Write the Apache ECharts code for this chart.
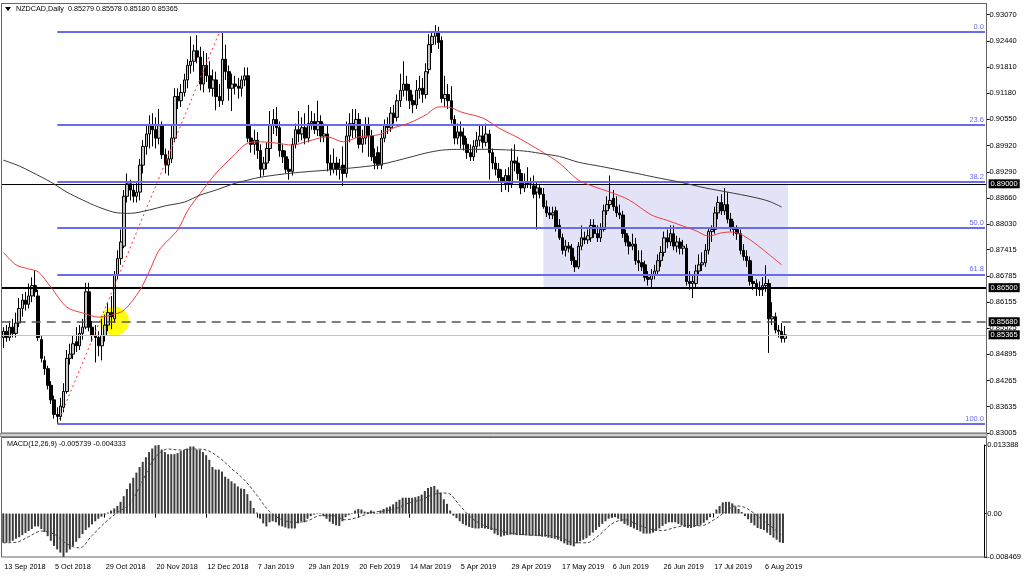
<!DOCTYPE html>
<html><head><meta charset="utf-8">
<script src="https://cdn.jsdelivr.net/npm/echarts@6/dist/echarts.min.js"></script>
<style>html,body{margin:0;padding:0;background:#fff}#c{width:1024px;height:581px}</style>
</head><body><div id="c"></div>
<script>
// ---------------- DATA ----------------
const symbolName = 'NZDCAD,Daily';
const tickLabels = ['13 Sep 2018','5 Oct 2018','29 Oct 2018','20 Nov 2018','12 Dec 2018','7 Jan 2019','29 Jan 2019','20 Feb 2019','14 Mar 2019','5 Apr 2019','29 Apr 2019','17 May 2019','6 Jun 2019','26 Jun 2019','17 Jul 2019','6 Aug 2019'];
const barsPerTick = 16;
const slotCount = 310;
const priceTicks = [0.93070,0.92440,0.91810,0.91180,0.90550,0.89920,0.89290,0.88660,0.88030,0.87415,0.86785,0.86155,0.85525,0.84895,0.84265,0.83635,0.83005];
const macdTicks = [-0.008469, 0, 0.013388];
// [open, high, low, close]
const ohlc = [
[0.8530,0.8555,0.8505,0.8545],[0.8545,0.8560,0.8520,0.8530],[0.8530,0.8570,0.8522,0.8555],[0.8555,0.8575,0.8530,0.8540],[0.8540,0.8590,0.8530,0.8565],
[0.8565,0.8625,0.8555,0.8600],[0.8600,0.8635,0.8580,0.8620],[0.8620,0.8640,0.8595,0.8610],[0.8610,0.8660,0.8600,0.8630],[0.8630,0.8675,0.8615,0.8655],
[0.8655,0.8692,0.8628,0.8640],[0.8630,0.8645,0.8522,0.8530],[0.8525,0.8535,0.8470,0.8480],[0.8475,0.8485,0.8440,0.8455],[0.8455,0.8462,0.8405,0.8415],
[0.8415,0.8425,0.8370,0.8380],[0.8380,0.8390,0.8335,0.8345],[0.8345,0.8362,0.8322,0.8340],[0.8340,0.8385,0.8330,0.8365],[0.8362,0.8420,0.8350,0.8400],
[0.8400,0.8500,0.8395,0.8480],[0.8480,0.8515,0.8465,0.8490],[0.8490,0.8535,0.8478,0.8515],[0.8520,0.8555,0.8495,0.8510],[0.8510,0.8560,0.8500,0.8540],
[0.8540,0.8575,0.8525,0.8555],[0.8555,0.8662,0.8550,0.8640],[0.8640,0.8662,0.8545,0.8555],[0.8555,0.8570,0.8520,0.8535],[0.8535,0.8560,0.8470,0.8530],
[0.8530,0.8545,0.8485,0.8510],[0.8510,0.8575,0.8475,0.8535],[0.8535,0.8585,0.8520,0.8560],[0.8560,0.8615,0.8545,0.8590],[0.8590,0.8630,0.8550,0.8580],
[0.8575,0.8690,0.8565,0.8680],[0.8680,0.8740,0.8670,0.8720],[0.8720,0.8790,0.8705,0.8760],[0.8750,0.8885,0.8745,0.8870],[0.8870,0.8925,0.8855,0.8900],
[0.8900,0.8910,0.8860,0.8885],[0.8885,0.8900,0.8855,0.8870],[0.8870,0.8905,0.8855,0.8880],[0.8880,0.8960,0.8860,0.8945],[0.8945,0.9005,0.8925,0.8990],
[0.8990,0.9040,0.8970,0.9020],[0.9020,0.9065,0.8985,0.9040],[0.9040,0.9070,0.8990,0.9030],[0.9030,0.9060,0.8985,0.9010],[0.9010,0.9080,0.8995,0.9040],
[0.9040,0.9050,0.8960,0.8970],[0.8970,0.8985,0.8925,0.8945],[0.8945,0.8980,0.8920,0.8960],[0.8960,0.9040,0.8950,0.9010],[0.9010,0.9130,0.9000,0.9110],
[0.9110,0.9130,0.9080,0.9100],[0.9100,0.9140,0.9085,0.9120],[0.9120,0.9165,0.9110,0.9150],[0.9150,0.9200,0.9130,0.9185],[0.9185,0.9255,0.9165,0.9195],
[0.9195,0.9235,0.9170,0.9220],[0.9220,0.9258,0.9190,0.9205],[0.9205,0.9230,0.9125,0.9140],[0.9140,0.9220,0.9120,0.9185],[0.9185,0.9215,0.9145,0.9160],
[0.9160,0.9195,0.9120,0.9130],[0.9130,0.9175,0.9110,0.9150],[0.9150,0.9170,0.9077,0.9110],[0.9110,0.9140,0.9085,0.9100],[0.9100,0.9265,0.9090,0.9200],
[0.9200,0.9235,0.9150,0.9170],[0.9170,0.9185,0.9100,0.9130],[0.9130,0.9165,0.9075,0.9140],[0.9140,0.9160,0.9115,0.9135],[0.9135,0.9155,0.9105,0.9130],
[0.9130,0.9160,0.9110,0.9150],[0.9150,0.9180,0.9135,0.9160],[0.9160,0.9180,0.9000,0.9010],[0.9010,0.9040,0.8975,0.8995],[0.8995,0.9030,0.8970,0.9005],
[0.9005,0.9025,0.8960,0.8980],[0.8980,0.8995,0.8915,0.8935],[0.8935,0.8965,0.8920,0.8950],[0.8950,0.9000,0.8935,0.8985],[0.8985,0.9075,0.8955,0.9040],
[0.9040,0.9080,0.9020,0.9055],[0.9055,0.9085,0.9015,0.9035],[0.9035,0.9050,0.8965,0.8980],[0.8980,0.8995,0.8950,0.8965],[0.8965,0.8980,0.8925,0.8935],
[0.8935,0.8960,0.8910,0.8930],[0.8930,0.9010,0.8920,0.8995],[0.8995,0.9045,0.8985,0.9030],[0.9030,0.9075,0.9000,0.9020],[0.9020,0.9060,0.9005,0.9035],
[0.9035,0.9070,0.8995,0.9010],[0.9010,0.9090,0.9000,0.9045],[0.9045,0.9075,0.9030,0.9050],[0.9050,0.9070,0.9020,0.9030],[0.9030,0.9100,0.9015,0.9050],
[0.9050,0.9065,0.9000,0.9015],[0.9015,0.9045,0.9000,0.9020],[0.9020,0.9040,0.8930,0.8950],[0.8950,0.8970,0.8920,0.8935],[0.8935,0.8985,0.8925,0.8950],
[0.8950,0.8965,0.8920,0.8935],[0.8935,0.8960,0.8910,0.8940],[0.8945,0.8990,0.8895,0.8925],[0.8925,0.9050,0.8915,0.9015],[0.9015,0.9070,0.9000,0.9045],
[0.9045,0.9080,0.9010,0.9030],[0.9030,0.9080,0.9010,0.9055],[0.9055,0.9070,0.8985,0.8995],[0.8995,0.9030,0.8975,0.9010],[0.9010,0.9060,0.8995,0.9040],
[0.9040,0.9060,0.8965,0.9015],[0.9015,0.9030,0.8955,0.8965],[0.8965,0.8985,0.8935,0.8950],[0.8975,0.8990,0.8935,0.8945],[0.8945,0.9030,0.8935,0.9010],
[0.9010,0.9055,0.9000,0.9040],[0.9040,0.9060,0.9020,0.9035],[0.9035,0.9085,0.9025,0.9070],[0.9070,0.9090,0.9045,0.9060],[0.9060,0.9115,0.9050,0.9100],
[0.9100,0.9165,0.9085,0.9125],[0.9125,0.9195,0.9110,0.9140],[0.9140,0.9160,0.9100,0.9125],[0.9125,0.9140,0.9080,0.9100],[0.9100,0.9115,0.9070,0.9090],
[0.9090,0.9150,0.9080,0.9125],[0.9125,0.9160,0.9105,0.9130],[0.9130,0.9155,0.9095,0.9115],[0.9115,0.9190,0.9105,0.9170],[0.9175,0.9260,0.9165,0.9235],
[0.9235,0.9268,0.9215,0.9255],[0.9255,0.9282,0.9235,0.9265],[0.9265,0.9278,0.9225,0.9240],[0.9245,0.9255,0.9095,0.9105],[0.9105,0.9160,0.9085,0.9115],
[0.9115,0.9140,0.9080,0.9100],[0.9100,0.9135,0.9045,0.9055],[0.9055,0.9065,0.8995,0.9010],[0.9010,0.9045,0.8995,0.9025],[0.9025,0.9050,0.8985,0.9015],
[0.9015,0.9035,0.8980,0.8995],[0.8995,0.9010,0.8960,0.8975],[0.8975,0.8995,0.8955,0.8965],[0.8965,0.9005,0.8955,0.8990],[0.8990,0.9025,0.8975,0.9005],
[0.9005,0.9040,0.8990,0.9015],[0.9015,0.9040,0.8985,0.9000],[0.9000,0.9045,0.8990,0.9020],[0.9020,0.9030,0.8910,0.8975],[0.8975,0.8985,0.8935,0.8950],
[0.8950,0.8965,0.8920,0.8935],[0.8935,0.8950,0.8905,0.8915],[0.8915,0.8935,0.8880,0.8905],[0.8900,0.8935,0.8885,0.8920],[0.8920,0.8940,0.8880,0.8900],
[0.8900,0.8985,0.8890,0.8955],[0.8955,0.8995,0.8930,0.8950],[0.8950,0.8965,0.8910,0.8925],[0.8925,0.8935,0.8875,0.8890],[0.8890,0.8925,0.8880,0.8905],
[0.8905,0.8940,0.8890,0.8900],[0.8900,0.8915,0.8888,0.8898],[0.8895,0.8920,0.8865,0.8875],[0.8880,0.8905,0.8790,0.8890],[0.8890,0.8900,0.8865,0.8875],
[0.8875,0.8890,0.8840,0.8845],[0.8845,0.8860,0.8820,0.8830],[0.8830,0.8845,0.8815,0.8825],[0.8825,0.8845,0.8815,0.8830],[0.8835,0.8845,0.8785,0.8795],
[0.8800,0.8815,0.8765,0.8770],[0.8770,0.8780,0.8730,0.8740],[0.8740,0.8765,0.8725,0.8750],[0.8750,0.8760,0.8735,0.8745],[0.8745,0.8755,0.8705,0.8715],
[0.8715,0.8725,0.8688,0.8700],[0.8700,0.8760,0.8695,0.8750],[0.8750,0.8800,0.8740,0.8770],[0.8770,0.8785,0.8755,0.8765],[0.8765,0.8790,0.8755,0.8775],
[0.8770,0.8815,0.8760,0.8800],[0.8800,0.8815,0.8770,0.8780],[0.8780,0.8800,0.8760,0.8770],[0.8770,0.8805,0.8760,0.8790],[0.8790,0.8850,0.8785,0.8835],
[0.8835,0.8870,0.8825,0.8850],[0.8850,0.8920,0.8840,0.8860],[0.8865,0.8885,0.8835,0.8845],[0.8845,0.8870,0.8820,0.8830],[0.8830,0.8850,0.8815,0.8825],
[0.8825,0.8835,0.8770,0.8780],[0.8780,0.8790,0.8750,0.8760],[0.8760,0.8775,0.8730,0.8750],[0.8750,0.8780,0.8740,0.8755],[0.8755,0.8770,0.8705,0.8715],
[0.8715,0.8740,0.8690,0.8710],[0.8710,0.8740,0.8690,0.8700],[0.8705,0.8715,0.8665,0.8675],[0.8675,0.8690,0.8655,0.8670],[0.8670,0.8695,0.8648,0.8680],
[0.8680,0.8705,0.8670,0.8690],[0.8690,0.8730,0.8680,0.8715],[0.8715,0.8750,0.8700,0.8735],[0.8735,0.8785,0.8725,0.8770],[0.8770,0.8790,0.8745,0.8760],
[0.8760,0.8800,0.8750,0.8780],[0.8780,0.8800,0.8740,0.8750],[0.8750,0.8775,0.8735,0.8760],[0.8760,0.8770,0.8730,0.8745],[0.8745,0.8765,0.8730,0.8750],
[0.8745,0.8755,0.8655,0.8665],[0.8665,0.8690,0.8645,0.8660],[0.8660,0.8680,0.8625,0.8665],[0.8660,0.8705,0.8650,0.8690],[0.8690,0.8730,0.8680,0.8705],
[0.8705,0.8735,0.8690,0.8710],[0.8710,0.8755,0.8700,0.8740],[0.8740,0.8795,0.8730,0.8785],[0.8785,0.8800,0.8760,0.8790],[0.8790,0.8845,0.8780,0.8830],
[0.8830,0.8870,0.8815,0.8855],[0.8855,0.8875,0.8825,0.8835],[0.8835,0.8890,0.8825,0.8850],[0.8850,0.8880,0.8805,0.8815],[0.8815,0.8830,0.8785,0.8795],
[0.8795,0.8810,0.8775,0.8790],[0.8790,0.8800,0.8765,0.8780],[0.8780,0.8790,0.8730,0.8740],[0.8740,0.8755,0.8715,0.8725],[0.8725,0.8740,0.8700,0.8715],
[0.8715,0.8725,0.8655,0.8665],[0.8665,0.8680,0.8645,0.8660],[0.8660,0.8670,0.8630,0.8650],[0.8650,0.8665,0.8630,0.8645],[0.8645,0.8675,0.8630,0.8655],
[0.8655,0.8704,0.8640,0.8660],[0.8660,0.8670,0.8493,0.8575],[0.8575,0.8615,0.8560,0.8580],[0.8580,0.8590,0.8540,0.8548],[0.8548,0.8560,0.8530,0.8545],
[0.8545,0.8565,0.8518,0.8528],[0.85279,0.85578,0.85180,0.85365]
];
// moving averages: [barIndex, value]
const maRed = [[0,0.8735],[4,0.8705],[8,0.8695],[11,0.8688],[15,0.8651],[20,0.8603],[25,0.8589],[30,0.8579],[34,0.8584],[38,0.8596],[43,0.8644],[46,0.8690],[49,0.8740],[52,0.8765],[55,0.8790],[58,0.8835],[62,0.8877],[67,0.8926],[72,0.8964],[77,0.8998],[81,0.9001],[86,0.8998],[91,0.8993],[96,0.9003],[102,0.9013],[107,0.9001],[112,0.9013],[118,0.9018],[123,0.9035],[128,0.9047],[133,0.9066],[137,0.9085],[140,0.9085],[144,0.9073],[151,0.9058],[156,0.9034],[161,0.9015],[165,0.8998],[170,0.8975],[175,0.8950],[181,0.8909],[186,0.8893],[191,0.8880],[197,0.8861],[204,0.8825],[209,0.8812],[213,0.8801],[218,0.8787],[222,0.8774],[226,0.8782],[229,0.8784],[232,0.8779],[236,0.8760],[241,0.8730],[245,0.8705]];
const maBlack = [[0,0.8957],[5,0.8943],[9,0.8928],[15,0.8904],[20,0.8880],[25,0.8861],[30,0.8844],[36,0.8830],[40,0.8829],[46,0.8837],[51,0.8847],[57,0.8856],[62,0.8873],[67,0.8885],[72,0.8899],[77,0.8909],[81,0.8916],[91,0.8926],[102,0.8933],[112,0.8940],[119,0.8947],[128,0.8964],[133,0.8974],[138,0.8981],[144,0.8983],[152,0.8983],[160,0.8981],[165,0.8978],[170,0.8972],[175,0.8966],[181,0.8952],[188,0.8942],[194,0.8933],[200,0.8924],[205,0.8916],[213,0.8904],[221,0.8890],[228,0.8880],[236,0.8868],[241,0.8858],[245,0.8844]];
const macdHist = [
-0.0057,-0.0057,-0.0055,-0.0053,-0.0049,-0.0046,-0.0042,-0.0038,-0.0034,-0.0030,-0.0025,-0.0025,
-0.0030,-0.0036,-0.0044,-0.0053,-0.0063,-0.0070,-0.0076,-0.008469,
-0.0076,-0.0070,-0.0063,-0.0055,-0.0048,-0.0040,-0.0032,-0.0027,-0.0021,-0.0015,-0.0010,-0.0006,-0.0002,0.0002,0.0006,0.0010,0.0015,
0.0023,0.0034,0.0048,0.0059,0.0070,0.0080,0.0091,0.0101,0.0110,0.0120,0.0127,0.0133,0.013388,
0.0125,0.0120,0.0116,0.0116,0.0116,0.0118,0.0122,0.0124,0.0127,0.0131,0.0131,0.0125,0.0124,0.0120,0.0114,0.0105,0.0091,0.0086,0.0086,0.0082,
0.0072,0.0068,0.0063,0.0059,0.0053,0.0049,0.0048,0.0038,0.0025,0.0011,0.0002,-0.0010,-0.0019,-0.0025,-0.0017,-0.0015,-0.0017,-0.0023,-0.0025,-0.0027,
-0.0029,-0.0029,-0.0029,-0.0019,-0.0015,
-0.0017,-0.0010,-0.0005,-0.0002,-0.0001,-0.0001,-0.0005,-0.0010,-0.0016,-0.0020,-0.0023,-0.0024,-0.0015,-0.0007,-0.0003,0.0001,0.0006,0.0009,0.0008,0.0004,
0.0003,0.0006,0.0003,0.0001,0.0006,0.0009,0.0012,0.0014,0.0018,0.0023,0.0027,0.0031,0.0031,0.0031,0.0031,0.0032,0.0034,0.0037,0.0044,0.0050,
0.0052,0.0054,0.0047,0.0041,0.0028,0.0019,0.0006,-0.0004,-0.0009,-0.0015,-0.0020,-0.0023,-0.0026,-0.0028,-0.0029,-0.0029,-0.0028,-0.0029,-0.0030,-0.0032,
-0.0039,-0.0042,-0.0045,-0.0043,-0.0042,-0.0041,-0.0041,-0.0042,-0.0042,-0.0042,-0.0042,-0.0043,-0.0043,-0.0043,-0.0044,-0.0045,-0.0045,-0.0047,-0.0048,-0.0049,
-0.0051,-0.0054,-0.0058,-0.0061,-0.0062,-0.0064,-0.0058,-0.0054,-0.0051,-0.0048,-0.0043,-0.0037,-0.0032,-0.0026,-0.0020,-0.0015,-0.0010,-0.0008,-0.0007,-0.0010,
-0.0015,-0.0020,-0.0023,-0.0026,-0.0029,-0.0032,-0.0035,-0.0039,-0.0039,-0.0039,-0.0037,-0.0034,-0.0029,-0.0024,-0.0020,-0.0017,-0.0017,-0.0017,-0.0020,-0.0023,
-0.0026,-0.0028,-0.0028,-0.0026,-0.0024,-0.0022,-0.0018,-0.0013,-0.0007,0.0001,0.0008,0.0015,0.0022,0.0023,0.0023,0.0020,0.0014,0.0009,0.0003,-0.0005,
-0.0011,-0.0018,-0.0023,-0.0028,-0.0030,-0.0032,-0.0037,-0.0042,-0.0047,-0.0051,-0.0056,-0.005739
];
const macdSignal = [[0,-0.0057],[4,-0.0056],[8,-0.0045],[12,-0.0034],[16,-0.0040],[20,-0.0059],[24,-0.0067],[28,-0.0043],[32,-0.0018],[36,0.0002],[40,0.0020],[44,0.0065],[48,0.0110],[52,0.0126],[56,0.0124],[60,0.0126],[64,0.0124],[68,0.0110],[72,0.0088],[76,0.0066],[80,0.0036],[84,0.0004],[88,-0.0012],[92,-0.0017],[96,-0.0014],[100,-0.0004],[104,-0.0004],[108,-0.0012],[112,-0.0007],[116,0.0002],[120,0.0005],[124,0.0010],[128,0.0021],[132,0.0027],[136,0.0038],[140,0.0040],[144,0.0016],[148,-0.0010],[152,-0.0024],[156,-0.0032],[160,-0.0038],[166,-0.0042],[172,-0.0043],[176,-0.0047],[180,-0.0057],[184,-0.0057],[188,-0.0042],[192,-0.0020],[196,-0.0012],[200,-0.0021],[204,-0.0030],[208,-0.0033],[212,-0.0027],[216,-0.0023],[220,-0.0024],[224,-0.0013],[228,0.0004],[231,0.0015],[234,0.0012],[237,0.0000],[241,-0.0019],[246,-0.004333]];
// Fibonacci retracement drawn from the low bar to the high bar
const fibLowBar = 17, fibHighBar = 68;
const fibLevels = [0.9265, 0.90425, 0.89048, 0.87935, 0.86822, 0.8322];
const fibNames = ['0.0','23.6','38.2','50.0','61.8','100.0'];
const levelLines = [0.8900, 0.8650, 0.8568, 0.85365];
const boxArea = {from: 170, to: 247, top: 0.8900, bottom: 0.8650};
const circleMark = [35, 0.85695];

// ---------------- CHART ----------------
const FONT = 'Liberation Sans';
const categories = Array.from({length: slotCount}, (_, i) => String(i));
const showTick = (idx) => idx % barsPerTick === 0 && idx / barsPerTick < tickLabels.length;
const fibColor = '#6b6bef';
const chart = echarts.init(document.getElementById('c'), null, {renderer: 'canvas'});
const last = ohlc[ohlc.length - 1];
const gridLeft = 1.7, gridWidth = 984.9;

const fibMarks = fibLevels.map((v, k) => [
  {coord: [String(fibLowBar), v], lineStyle: {color: fibColor, width: 2, type: 'solid'},
   label: {show: true, position: 'insideEndTop', formatter: fibNames[k], color: fibColor, fontSize: 7.5, fontFamily: FONT, distance: 1}},
  {coord: [String(slotCount - 1), v]}
]);
const boxLabel = (bg) => ({show: true, position: 'end', distance: 2, formatter: p => Number(p.value).toFixed(5),
  color: '#fff', backgroundColor: bg, padding: [1, 2, 0, 2], fontSize: 7.5, fontFamily: FONT});
const lineMarks = [
  {yAxis: levelLines[0], lineStyle: {color: '#000', width: 1, type: 'solid'}, label: boxLabel('#000')},
  {yAxis: levelLines[1], lineStyle: {color: '#000', width: 2, type: 'solid'}, label: boxLabel('#000')},
  {yAxis: levelLines[2], lineStyle: {color: '#555', width: 1.5, type: [9, 6]}, label: boxLabel('#000')},
  {yAxis: levelLines[3], lineStyle: {color: '#c4c4c4', width: 1, type: 'solid'}, label: boxLabel('#000')}
];

const option = {
  animation: false,
  backgroundColor: '#fff',
  textStyle: {fontFamily: FONT},
  grid: [
    {left: gridLeft, width: gridWidth, top: 4, height: 429},
    {left: gridLeft, width: gridWidth, top: 445, height: 112}
  ],
  xAxis: [
    {type: 'category', gridIndex: 0, data: categories, boundaryGap: true,
     axisLine: {show: false}, axisTick: {show: false}, axisLabel: {show: false}, splitLine: {show: false}},
    {type: 'category', gridIndex: 1, data: categories, boundaryGap: true, position: 'bottom',
     axisLine: {show: false},
     axisTick: {show: true, alignWithLabel: true, interval: showTick, length: 4, lineStyle: {color: '#000'}},
     axisLabel: {show: true, interval: showTick, align: 'left', margin: 6, padding: [0, 0, 0, 1],
       fontSize: 7.3, color: '#000', fontFamily: FONT,
       formatter: (v) => tickLabels[Number(v) / barsPerTick] || ''},
     splitLine: {show: false}}
  ],
  yAxis: [
    {type: 'value', gridIndex: 0, position: 'right', min: 0.83002, max: 0.93328, scale: true,
     axisLine: {show: true, lineStyle: {color: '#000'}},
     axisTick: {show: true, length: 3, lineStyle: {color: '#000'}, customValues: priceTicks},
     axisLabel: {show: true, margin: 3, fontSize: 7.5, color: '#000', fontFamily: FONT,
       customValues: priceTicks, formatter: v => v.toFixed(5)},
     splitLine: {show: false}},
    {type: 'value', gridIndex: 1, position: 'right', min: macdTicks[0], max: macdTicks[2],
     axisLine: {show: true, lineStyle: {color: '#000'}},
     axisTick: {show: true, length: 3, lineStyle: {color: '#000'}, customValues: macdTicks},
     axisLabel: {show: true, margin: 3, fontSize: 7.5, color: '#000', fontFamily: FONT,
       customValues: macdTicks, formatter: v => v === 0 ? '0.00' : v.toFixed(6)},
     splitLine: {show: false}}
  ],
  series: [
    {name: 'box', type: 'line', xAxisIndex: 0, yAxisIndex: 0, data: [], z: 1, silent: true,
     markArea: {silent: true, itemStyle: {color: '#e3e3f7'},
       data: [[{coord: [String(boxArea.from), boxArea.top]}, {coord: [String(boxArea.to), boxArea.bottom]}]]}},
    {name: 'circle', type: 'scatter', xAxisIndex: 0, yAxisIndex: 0, z: 2, silent: true,
     symbol: 'circle', symbolSize: 29, itemStyle: {color: '#ffff00', opacity: 0.95},
     data: [[String(circleMark[0]), circleMark[1]]]},
    {name: 'price', type: 'candlestick', xAxisIndex: 0, yAxisIndex: 0, z: 4, barWidth: 3,
     itemStyle: {color: '#c6c6c6', color0: '#000', borderColor: '#000', borderColor0: '#000', borderWidth: 1},
     data: ohlc.map(d => [d[0], d[3], d[2], d[1]])},
    {name: 'ma50', type: 'line', xAxisIndex: 0, yAxisIndex: 0, z: 5, showSymbol: false, smooth: 0.3,
     lineStyle: {color: '#f03c3c', width: 1}, data: maRed.map(p => [String(p[0]), p[1]])},
    {name: 'ma200', type: 'line', xAxisIndex: 0, yAxisIndex: 0, z: 5, showSymbol: false, smooth: 0.3,
     lineStyle: {color: '#3a3a3a', width: 1}, data: maBlack.map(p => [String(p[0]), p[1]])},
    {name: 'levels', type: 'line', xAxisIndex: 0, yAxisIndex: 0, data: [], z: 6, silent: true,
     markLine: {silent: true, symbol: ['none', 'none'], animation: false, precision: 6,
       data: [
         ...fibMarks,
         [{coord: [String(fibLowBar), fibLevels[5]], lineStyle: {color: '#ff3030', width: 1, type: [2, 3]}, label: {show: false}},
          {coord: [String(fibHighBar), fibLevels[0]]}],
         ...lineMarks
       ]}},
    {name: 'macd', type: 'bar', xAxisIndex: 1, yAxisIndex: 1, barWidth: 2, z: 3,
     itemStyle: {color: '#3c3c3c'}, data: macdHist},
    {name: 'signal', type: 'line', xAxisIndex: 1, yAxisIndex: 1, z: 4, showSymbol: false, smooth: 0.35,
     lineStyle: {color: '#444', width: 1, type: [3, 2]}, data: macdSignal.map(p => [String(p[0]), p[1]])}
  ],
  graphic: [
    {type: 'rect', shape: {x: 1.5, y: 3.5, width: 985, height: 429.5}, style: {fill: 'none', stroke: '#666', lineWidth: 1}, z: 100, silent: true},
    {type: 'rect', shape: {x: 0, y: 433.5, width: 987, height: 3}, style: {fill: '#cfcfcf', stroke: '#888', lineWidth: 1}, z: 100, silent: true},
    {type: 'rect', shape: {x: 1.5, y: 437.5, width: 985, height: 119.5}, style: {fill: 'none', stroke: '#666', lineWidth: 1}, z: 100, silent: true},
    {type: 'polygon', shape: {points: [[5, 7], [11, 7], [8, 11]]}, style: {fill: '#000'}, z: 100, silent: true},
    {type: 'text', x: 16, y: 9.5, z: 100, silent: true,
     style: {text: symbolName + '  ' + last.map(v => v.toFixed(5)).join(' '), fill: '#000', font: '7.2px "Liberation Sans"', textVerticalAlign: 'middle'}},
    {type: 'text', x: 7, y: 444, z: 100, silent: true,
     style: {text: 'MACD(12,26,9) ' + macdHist[macdHist.length - 1].toFixed(6) + ' ' + macdSignal[macdSignal.length - 1][1].toFixed(6), fill: '#000', font: '7.2px "Liberation Sans"', textVerticalAlign: 'middle'}}
  ]
};
chart.setOption(option);
</script></body></html>
